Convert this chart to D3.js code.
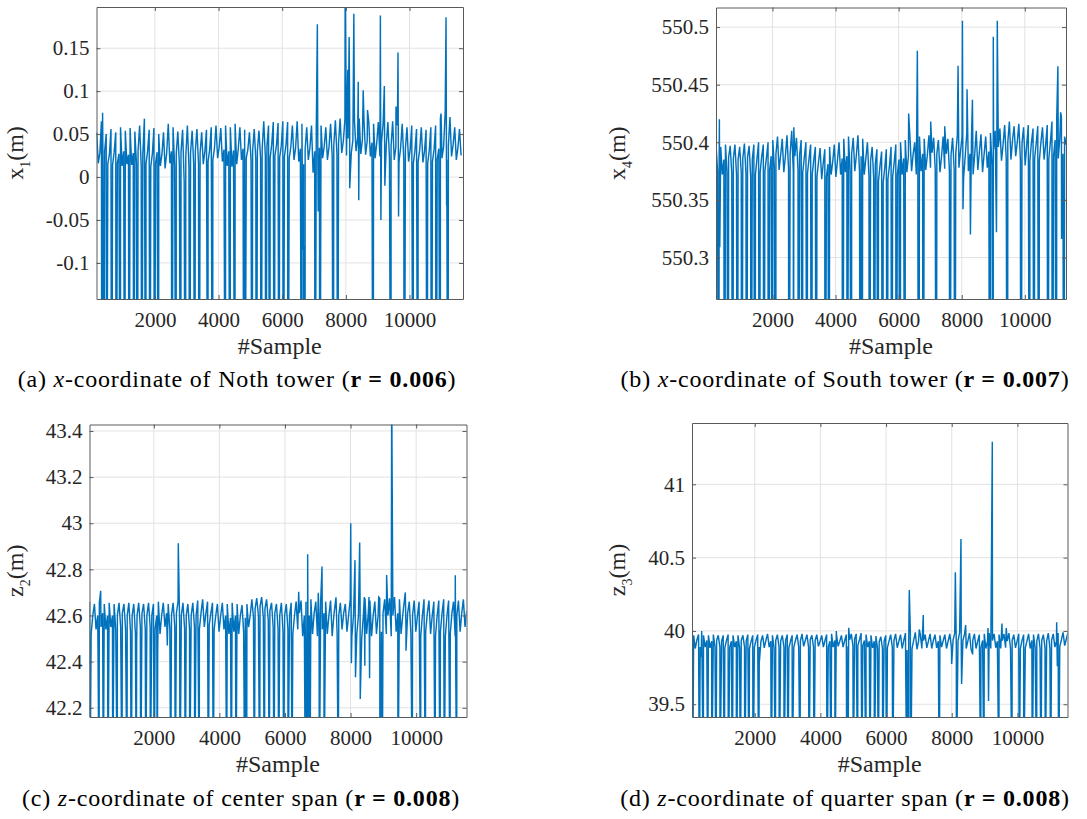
<!DOCTYPE html>
<html>
<head>
<meta charset="utf-8">
<script src="https://cdn.jsdelivr.net/npm/d3@7"></script>
<style>
  body { margin: 0; background: #fff; }
  svg { display: block; }
</style>
</head>
<body>
<svg id="fig" width="1087" height="819"></svg>
<script>
// ---------------------------------------------------------------
// Displacement records of four monitoring points (#Sample = index)
// Regular record: one value every SAMPLE_STEP samples from its start.
// Outliers (spikes) are listed separately as sample / value pairs.
// ---------------------------------------------------------------
const SAMPLE_STEP = 50;
const sampleStart = { a: 170, b: 210, c: 40, d: 90 };

const xTicks = [2000, 4000, 6000, 8000, 10000];

// (a) x-coordinate of North tower, x1 (m)
const valuesA = [
  0.052,0.016,0.028, 0.065,0.012,0.03, 0.05,0.015,0.026, 0.056,0.014,0.029, 0.052,0.016,0.027, 0.058,0.013,0.03, 0.054,0.015,0.026, 0.057,0.014,0.028, 0.053,0.016,0.03, 0.06,0.013,0.027,
  0.068,0.015,0.03, 0.055,0.012,0.027, 0.057,0.016,0.029, 0.05,0.013,0.026, 0.052,0.01,0.028, 0.062,0.016,0.03, 0.058,0.012,0.027, 0.053,0.014,0.029, 0.055,-0.006,0.024, 0.06,0.012,0.028,
  0.054,0.014,0.03, 0.056,0.016,0.028, 0.052,0.015,0.03, 0.055,0.018,0.032, 0.058,0.02,0.033, 0.06,0.022,0.035, 0.057,0.018,0.032, 0.06,0.013,0.03, 0.058,0.012,0.031, 0.062,0.015,0.033,
  0.058,0.02,0.033, 0.055,0.022,0.032, 0.052,0.02,0.03, 0.056,0.021,0.031, 0.054,0.022,0.033, 0.065,0.024,0.036, 0.06,0.022,0.038, 0.064,0.025,0.037, 0.063,0.023,0.036, 0.065,0.024,0.038,
  0.064,0.022,0.035, 0.06,0.02,0.034, 0.065,0.018,0.033, 0.062,0.015,0.032, 0.058,0.02,0.034, 0.06,0.005,0.03, 0.055,0.018,0.034, 0.06,0.022,0.036, 0.058,0.02,0.035, 0.062,0.024,0.037,
  0.066,0.026,0.04, 0.068,0.028,0.042, 0.067,0.025,0.045, 0.07,0.028,0.043, 0.066,0.03,0.046, 0.068,0.027,0.044, 0.065,0.026,0.042, 0.064,0.024,0.04, 0.062,0.022,0.04, 0.064,0.024,0.041,
  0.062,0.02,0.038, 0.064,0.022,0.036, 0.065,0.02,0.035, 0.06,0.018,0.034, 0.062,0.02,0.033, 0.058,0.018,0.032, 0.06,0.016,0.031, 0.056,0.018,0.032, 0.058,0.017,0.03, 0.055,0.016,0.031,
  0.058,0.018,0.032, 0.06,0.02,0.033, 0.068,0.022,0.035, 0.075,0.02,0.036, 0.07,0.024,0.038, 0.058,0.02,0.034, 0.056,0.025
];
const spikeSampleA = [334,387,481,638,781,919,1053,1188,1334,1450,1584,1719,1844,1981,2116,2531,2669,2813,2959,3094,3250,3388,3669,3813,4219,4366,4513,4794,4825,5053,5188,5334,5481,5616,5750,5897,6031,6178,6616,6650,6678,6700,6719,7031,7178,7606,7741,8856,9419,9834,10116,10263,10553,10688,10834,10969,11209,
  356,7104,7130,7979,8060,8103,8120,8250,8388,8405,8544,8680,9084,9100,9209,9225,9575,9638,9655,10990,11147,11165];
const spikeValueA = [-0.5,-0.5,-0.5,-0.5,-0.5,-0.5,-0.5,-0.5,-0.5,-0.5,-0.5,-0.5,-0.5,-0.5,-0.5,-0.5,-0.5,-0.5,-0.5,-0.5,-0.5,-0.5,-0.5,-0.5,-0.5,-0.5,-0.5,-0.5,-0.5,-0.5,-0.5,-0.5,-0.5,-0.5,-0.5,-0.5,-0.5,-0.5,-0.5,-0.085,-0.5,-0.08,-0.5,-0.5,-0.5,-0.5,-0.5,-0.5,-0.5,-0.5,-0.5,-0.5,-0.5,-0.5,-0.5,-0.5,-0.5,
  0.075,0.178,-0.04,0.25,0.125,0.163,-0.013,0.19,0.111,-0.027,0.101,0.078,0.188,-0.05,0.106,-0.01,0.082,0.145,-0.046,0.074,0.186,-0.033];
const yTicksA = [-0.1, -0.05, 0, 0.05, 0.1, 0.15];
const yTickLabelsA = ["-0.1", "-0.05", "0", "0.05", "0.1", "0.15"];

// (b) x-coordinate of South tower, x4 (m)
const valuesB = [
  550.398,550.375,550.386, 550.396,550.372,550.385, 550.398,550.374,550.387, 550.397,550.373,550.386, 550.398,550.372,550.385, 550.396,550.374,550.386, 550.399,550.373,550.387, 550.397,550.37,550.385, 550.398,550.372,550.386, 550.4,550.374,550.388,
  550.398,550.375,550.387, 550.4,550.376,550.388, 550.402,550.378,550.39, 550.405,550.376,550.389, 550.403,550.374,550.388, 550.406,550.377,550.39, 550.41,550.375,550.388, 550.404,550.376,550.389, 550.402,550.374,550.387, 550.4,550.373,550.386,
  550.398,550.372,550.385, 550.396,550.37,550.383, 550.395,550.368,550.382, 550.394,550.37,550.381, 550.396,550.372,550.383, 550.398,550.37,550.384, 550.4,550.372,550.386, 550.403,550.374,550.388, 550.405,550.376,550.39, 550.404,550.375,550.389,
  550.406,550.374,550.388, 550.403,550.372,550.386, 550.4,550.37,550.384, 550.396,550.368,550.381, 550.394,550.366,550.38, 550.392,550.365,550.378, 550.394,550.368,550.38, 550.396,550.37,550.383, 550.398,550.372,550.385, 550.4,550.372,550.386,
  550.402,550.374,550.388, 550.404,550.375,550.39, 550.4,550.372,550.388, 550.405,550.375,550.39, 550.403,550.376,550.389, 550.406,550.378,550.391, 550.404,550.376,550.39, 550.402,550.374,550.388, 550.405,550.377,550.39, 550.403,550.375,550.389,
  550.404,550.376,550.39, 550.406,550.378,550.392, 550.405,550.37,550.388, 550.408,550.375,550.39, 550.406,550.372,550.389, 550.41,550.376,550.392, 550.407,550.374,550.39, 550.405,550.378,550.392, 550.408,550.38,550.394, 550.41,550.382,550.396,
  550.412,550.384,550.398, 550.415,550.386,550.4, 550.418,550.385,550.402, 550.414,550.388,550.4, 550.416,550.384,550.399, 550.413,550.38,550.398, 550.415,550.384,550.4, 550.412,550.386,550.399, 550.414,550.384,550.4, 550.413,550.385,550.398,
  550.415,550.386,550.4, 550.418,550.388,550.402, 550.42,550.386,550.404, 550.422,550.39,550.405, 550.398
];
const spikeSampleB = [296,476,603,740,889,1026,1175,1312,1450,1587,1725,1862,2000,2106,2518,2667,2815,2952,3101,3238,3387,3661,3799,4222,4360,4508,4783,4836,5069,5217,5354,5492,5640,5778,5915,6053,6201,6635,6772,7196,7619,7778,8889,8995,9450,9873,10159,10296,10444,10730,10866,11005,11236,
  317,330,2676,6317,6593,6610,7016,7460,7883,8022,8040,8168,8275,8339,9000,9101,9127,11048,11136,11164];
const spikeValueB = [549.9,549.9,549.9,549.9,549.9,549.9,549.9,549.9,549.9,549.9,549.9,549.9,549.9,549.9,549.9,549.9,549.9,549.9,549.9,549.9,549.9,549.9,549.9,549.9,549.9,549.9,549.9,549.9,549.9,549.9,549.9,549.9,549.9,549.9,549.9,549.9,549.9,549.9,549.9,549.9,549.9,549.9,549.9,549.9,549.9,549.9,549.9,549.9,549.9,549.9,549.9,549.9,549.9,
  550.42,550.309,550.413,550.425,550.4795,550.33,550.418,550.414,550.4665,550.5055,550.342,550.446,550.32,550.437,550.4917,550.322,550.5055,550.466,550.426,550.316];
const yTicksB = [550.3, 550.35, 550.4, 550.45, 550.5];
const yTickLabelsB = ["550.3", "550.35", "550.4", "550.45", "550.5"];

// (c) z-coordinate of center span, z2 (m)
const valuesC = [
  42.66,42.52,42.6, 42.65,42.54,42.6, 42.655,42.55,42.61, 42.65,42.54,42.6, 42.655,42.55,42.6, 42.65,42.54,42.6, 42.655,42.55,42.61, 42.65,42.54,42.6, 42.655,42.53,42.6, 42.65,42.52,42.6,
  42.655,42.55,42.61, 42.65,42.54,42.6, 42.655,42.55,42.6, 42.65,42.54,42.6, 42.66,42.52,42.6, 42.655,42.55,42.61, 42.65,42.54,42.6, 42.655,42.55,42.61, 42.66,42.55,42.6, 42.655,42.54,42.6,
  42.65,42.54,42.6, 42.655,42.55,42.6, 42.665,42.54,42.61, 42.67,42.55,42.61, 42.66,42.56,42.61, 42.655,42.54,42.6, 42.65,42.53,42.6, 42.655,42.54,42.6, 42.65,42.52,42.59, 42.655,42.53,42.6,
  42.65,42.52,42.6, 42.645,42.53,42.59, 42.65,42.55,42.6, 42.67,42.59,42.63, 42.675,42.6,42.64, 42.68,42.59,42.63, 42.67,42.58,42.62, 42.655,42.55,42.61, 42.65,42.54,42.6, 42.655,42.53,42.6,
  42.65,42.54,42.6, 42.655,42.52,42.6, 42.66,42.54,42.61, 42.665,42.51,42.6, 42.66,42.53,42.6, 42.67,42.52,42.61, 42.66,42.51,42.6, 42.665,42.54,42.61, 42.66,42.52,42.6, 42.665,42.51,42.6,
  42.66,42.52,42.6, 42.655,42.54,42.61, 42.65,42.53,42.6, 42.67,42.51,42.6, 42.665,42.52,42.6, 42.67,42.5,42.6, 42.675,42.52,42.61, 42.665,42.51,42.6, 42.66,42.52,42.6, 42.675,42.53,42.61,
  42.67,42.52,42.6, 42.675,42.51,42.6, 42.68,42.53,42.61, 42.67,42.52,42.6, 42.665,42.54,42.61, 42.66,42.52,42.6, 42.665,42.53,42.6, 42.66,42.51,42.6, 42.67,42.53,42.61, 42.665,42.52,42.6,
  42.66,42.51,42.6, 42.665,42.53,42.61, 42.67,42.51,42.6, 42.665,42.52,42.61, 42.66,42.51,42.6, 42.665,42.53,42.61, 42.67,42.55,42.62
];
const spikeSampleC = [55,330,461,604,747,888,1031,1183,1315,1467,1601,1754,1894,2016,2107,2516,2656,2799,2961,3095,3248,3388,3662,3814,4223,4364,4507,4772,4833,5065,5229,5370,5522,5665,5809,5961,6092,6214,6620,6662,6723,6763,7047,7190,7626,8897,8967,9446,9882,10138,10280,10574,10727,10858,11032,11236,
  300,381,1478,2119,2412,2747,6418,6692,7016,7129,7556,8005,8025,8135,8150,8278,8295,8419,8435,8562,8580,8858,9100,9254,9669,9690,11193,11210];
const spikeValueC = [41.8,41.8,41.8,41.8,41.8,41.8,41.8,41.8,41.8,41.8,41.8,41.8,41.8,41.8,41.8,41.8,41.8,41.8,41.8,41.8,41.8,41.8,41.8,41.8,41.8,41.8,41.8,41.8,41.8,41.8,41.8,41.8,41.8,41.8,41.8,41.8,41.8,41.8,41.8,41.8,41.8,41.8,41.8,41.8,41.8,41.8,41.8,41.8,41.8,41.8,41.8,41.8,41.8,41.8,41.8,41.8,
  42.44,42.707,42.479,42.44,42.47,42.913,42.703,42.865,42.699,42.812,42.679,43.0,42.393,42.84,42.332,42.916,42.238,42.68,42.382,42.68,42.328,42.68,42.776,43.6,42.7,42.447,42.775,42.306];
const yTicksC = [42.2, 42.4, 42.6, 42.8, 43, 43.2, 43.4];
const yTickLabelsC = ["42.2", "42.4", "42.6", "42.8", "43", "43.2", "43.4"];

// (d) z-coordinate of quarter span, z3 (m)
const valuesD = [
  39.9,39.97,39.88, 39.94,39.975,39.89, 39.93,39.97,39.89, 39.935,39.97,39.885, 39.93,39.975,39.89, 39.935,39.97,39.89, 39.93,39.97,39.885, 39.935,39.975,39.89, 39.93,39.97,39.89, 39.93,39.97,39.885,
  39.935,39.97,39.89, 39.93,39.975,39.88, 39.93,39.97,39.89, 39.935,39.975,39.89, 39.93,39.97,39.885, 39.935,39.98,39.89, 39.93,39.97,39.885, 39.935,39.975,39.89, 39.93,39.97,39.89, 39.935,39.975,39.885,
  39.93,39.97,39.89, 39.935,39.975,39.89, 39.93,39.98,39.895, 39.935,39.975,39.89, 39.94,39.97,39.89, 39.935,39.975,39.895, 39.93,39.97,39.89, 39.935,39.975,39.89, 39.93,39.98,39.89, 39.935,39.975,39.895,
  39.93,39.97,39.89, 39.935,39.975,39.895, 39.94,39.98,39.9, 39.945,39.98,39.9, 39.94,39.985,39.9, 39.935,39.975,39.89, 39.93,39.97,39.885, 39.93,39.965,39.88, 39.925,39.96,39.88, 39.93,39.97,39.885,
  39.93,39.975,39.89, 39.935,39.98,39.885, 39.93,39.975,39.88, 39.935,39.985,39.87, 39.93,39.98,39.88, 39.935,39.99,39.875, 39.93,39.98,39.88, 39.935,39.975,39.885, 39.93,39.98,39.88, 39.935,39.975,39.885,
  39.93,39.97,39.89, 39.935,39.975,39.88, 39.93,39.98,39.885, 39.935,39.985,39.875, 39.93,39.99,39.87, 39.935,39.98,39.88, 39.93,39.985,39.875, 39.935,39.98,39.88, 39.93,39.975,39.885, 39.935,39.98,39.88,
  39.93,39.985,39.88, 39.935,39.98,39.885, 39.93,39.975,39.88, 39.935,39.98,39.885, 39.93,39.985,39.88, 39.935,39.975,39.885, 39.93,39.98,39.88, 39.935,39.975,39.885, 39.93,39.98,39.88, 39.935,39.975,39.885,
  39.93,39.98,39.88, 39.935,39.975,39.885, 39.93,39.985,39.88, 39.935,39.98,39.89, 39.93,39.985,39.895, 39.94,39.99,39.9, 39.945,39.99
];
const spikeSampleD = [111,313,435,568,690,821,943,1074,1196,1318,1440,1561,1695,1826,1948,2121,2505,2627,2749,2891,3013,3144,3379,3653,3805,4201,4323,4444,4801,4840,5002,5136,5267,5389,5510,5642,5763,5897,6018,6201,6628,6689,6750,7620,8140,8881,8981,9438,9834,10057,10191,10452,10586,10717,10848,11012,11256,
  370,385,2140,4484,4862,6707,7011,7133,7998,8110,8281,8300,8424,8637,9104,9120,9235,9530,9660,11195,11215];
const spikeValueD = [38.9,38.9,38.9,38.9,38.9,38.9,38.9,38.9,38.9,38.9,38.9,38.9,38.9,38.9,38.9,38.9,38.9,38.9,38.9,38.9,38.9,38.9,38.9,38.9,38.9,38.9,38.9,38.9,38.9,38.9,38.9,38.9,38.9,38.9,38.9,38.9,38.9,38.9,38.9,38.9,38.9,38.9,38.9,38.9,38.9,38.9,38.9,38.9,38.9,38.9,38.9,38.9,38.9,38.9,38.9,38.9,38.9,
  39.824,40.0,39.786,40.0,40.022,40.279,40.01,40.109,39.774,40.4,40.627,39.638,40.04,39.84,40.02,39.522,41.29,40.05,40.02,40.059,39.76];
const yTicksD = [39.5, 40, 40.5, 41];
const yTickLabelsD = ["39.5", "40", "40.5", "41"];

// ---------------------------------------------------------------
// Panel layout and styling
// ---------------------------------------------------------------
const LINE_COLOR = "#0072BD";
const AXIS_COLOR = "#5a5a5a";
const GRID_COLOR = "#e2e2e2";
const TEXT_COLOR = "#262626";
const FONT = "'Liberation Serif', 'Times New Roman', serif";

const panels = [
  { key: "a", box: { l: 96.5, r: 463, t: 7, b: 299 }, xDomain: [165, 11680], yDomain: [-0.142, 0.198],
    values: valuesA, spikeX: spikeSampleA, spikeY: spikeValueA, yTicks: yTicksA, yTickLabels: yTickLabelsA,
    yLabel: ["x", "1"], labelX: 23, caption: { cx: 237, y: 386.5, tag: "(a) ", axis: "x", rest: "-coordinate of Noth tower (", r: "r = 0.006" } },
  { key: "b", box: { l: 716, r: 1066, t: 7.5, b: 299 }, xDomain: [210, 11305], yDomain: [550.264, 550.517],
    values: valuesB, spikeX: spikeSampleB, spikeY: spikeValueB, yTicks: yTicksB, yTickLabels: yTickLabelsB,
    yLabel: ["x", "4"], labelX: 625, caption: { cx: 845, y: 386.5, tag: "(b) ", axis: "x", rest: "-coordinate of South tower (", r: "r = 0.007" } },
  { key: "c", box: { l: 89.5, r: 466.5, t: 424.5, b: 717 }, xDomain: [40, 11535], yDomain: [42.16, 43.428],
    values: valuesC, spikeX: spikeSampleC, spikeY: spikeValueC, yTicks: yTicksC, yTickLabels: yTickLabelsC,
    yLabel: ["z", "2"], labelX: 23, caption: { cx: 241, y: 806, tag: "(c) ", axis: "z", rest: "-coordinate of center span (", r: "r = 0.008" } },
  { key: "d", box: { l: 692, r: 1067.5, t: 423, b: 717 }, xDomain: [90, 11525], yDomain: [39.413, 41.418],
    values: valuesD, spikeX: spikeSampleD, spikeY: spikeValueD, yTicks: yTicksD, yTickLabels: yTickLabelsD,
    yLabel: ["z", "3"], labelX: 625, caption: { cx: 845, y: 806, tag: "(d) ", axis: "z", rest: "-coordinate of quarter span (", r: "r = 0.008" } }
];

const svg = d3.select("#fig");
const defs = svg.append("defs");

panels.forEach(p => {
  const { l, r, t, b } = p.box;
  const x = d3.scaleLinear().domain(p.xDomain).range([l, r]);
  const y = d3.scaleLinear().domain(p.yDomain).range([b, t]);
  const g = svg.append("g").attr("class", "panel-" + p.key);

  // grid
  g.append("g").selectAll("line").data(xTicks).join("line")
    .attr("x1", d => x(d)).attr("x2", d => x(d)).attr("y1", t).attr("y2", b)
    .attr("stroke", GRID_COLOR).attr("stroke-width", 1);
  g.append("g").selectAll("line").data(p.yTicks).join("line")
    .attr("y1", d => y(d)).attr("y2", d => y(d)).attr("x1", l).attr("x2", r)
    .attr("stroke", GRID_COLOR).attr("stroke-width", 1);

  // series: regular record merged with outliers, ordered by sample
  const points = p.values.map((v, i) => ({ s: sampleStart[p.key] + i * SAMPLE_STEP, v }))
    .concat(p.spikeX.map((s, i) => ({ s, v: p.spikeY[i] })))
    .sort((m, n) => m.s - n.s);

  defs.append("clipPath").attr("id", "clip-" + p.key)
    .append("rect").attr("x", l).attr("y", t).attr("width", r - l).attr("height", b - t);

  g.append("path")
    .datum(points)
    .attr("clip-path", `url(#clip-${p.key})`)
    .attr("fill", "none")
    .attr("stroke", LINE_COLOR)
    .attr("stroke-width", 1.45)
    .attr("stroke-linejoin", "miter")
    .attr("d", d3.line().x(d => x(d.s)).y(d => y(d.v)));

  // axes (box with inward ticks on all four sides)
  const TICK = 4;
  const styleAxis = sel => {
    sel.select(".domain").attr("stroke", AXIS_COLOR).attr("stroke-width", 1);
    sel.selectAll(".tick line").attr("stroke", AXIS_COLOR).attr("stroke-width", 1);
    sel.selectAll(".tick text").attr("fill", TEXT_COLOR).attr("font-family", FONT).attr("font-size", 21);
  };
  g.append("g").attr("transform", `translate(0,${b})`)
    .call(d3.axisBottom(x).tickValues(xTicks).tickFormat(d3.format("d")).tickSizeInner(-TICK).tickSizeOuter(0).tickPadding(13))
    .call(styleAxis);
  g.append("g").attr("transform", `translate(0,${t})`)
    .call(d3.axisTop(x).tickValues(xTicks).tickFormat("").tickSizeInner(-TICK).tickSizeOuter(0))
    .call(styleAxis);
  g.append("g").attr("transform", `translate(${l},0)`)
    .call(d3.axisLeft(y).tickValues(p.yTicks).tickFormat((d, i) => p.yTickLabels[i]).tickSizeInner(-TICK).tickSizeOuter(0).tickPadding(7))
    .call(styleAxis);
  g.append("g").attr("transform", `translate(${r},0)`)
    .call(d3.axisRight(y).tickValues(p.yTicks).tickFormat("").tickSizeInner(-TICK).tickSizeOuter(0))
    .call(styleAxis);

  // x label
  g.append("text")
    .attr("x", (l + r) / 2).attr("y", b + 55)
    .attr("text-anchor", "middle")
    .attr("font-family", FONT).attr("font-size", 24).attr("fill", TEXT_COLOR)
    .text("#Sample");

  // y label with subscript
  const yl = g.append("text")
    .attr("transform", `translate(${p.labelX},${(t + b) / 2}) rotate(-90)`)
    .attr("text-anchor", "middle")
    .attr("font-family", FONT).attr("font-size", 24).attr("fill", TEXT_COLOR);
  yl.append("tspan").text(p.yLabel[0]);
  yl.append("tspan").attr("font-size", 14).attr("dy", 7).text(p.yLabel[1]);
  yl.append("tspan").attr("dy", -7).text("(m)");

  // caption
  const c = p.caption;
  const cap = svg.append("text")
    .attr("x", c.cx).attr("y", c.y)
    .attr("text-anchor", "middle")
    .attr("font-family", FONT).attr("font-size", 24).attr("letter-spacing", 0.8).attr("fill", "#000");
  cap.append("tspan").text(c.tag);
  cap.append("tspan").attr("font-style", "italic").text(c.axis);
  cap.append("tspan").text(c.rest);
  cap.append("tspan").attr("font-weight", "bold").text(c.r);
  cap.append("tspan").text(")");
});
</script>
</body>
</html>
